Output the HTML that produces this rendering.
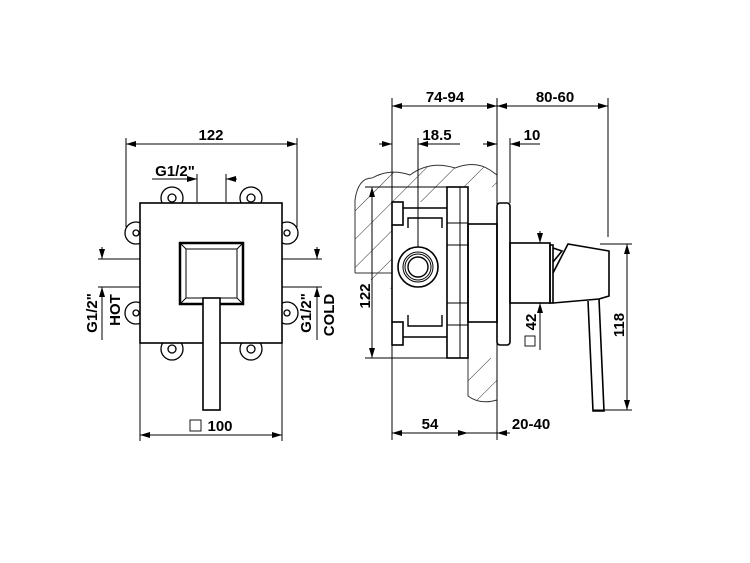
<!DOCTYPE html>
<html><head><style>
html,body{margin:0;padding:0;background:#fff;}
svg{display:block;}
text{font-family:"Liberation Sans",sans-serif;font-weight:bold;font-size:15px;fill:#000;}
</style></head><body>
<svg width="750" height="563" viewBox="0 0 750 563" xmlns="http://www.w3.org/2000/svg">
<defs>
<marker id="a" viewBox="0 0 10 6" refX="10" refY="3" markerWidth="10" markerHeight="6" orient="auto-start-reverse" markerUnits="userSpaceOnUse"><path d="M0,0 L10,3 L0,6 z" fill="#000"/></marker>
<pattern id="h" patternUnits="userSpaceOnUse" width="20" height="20" patternTransform="rotate(45)"><line x1="0" y1="0" x2="0" y2="20" stroke="#333" stroke-width="1"/></pattern>
</defs>
<g stroke="#000" fill="none" stroke-width="1">
<!-- LEFT VIEW -->
<line x1="126" y1="144" x2="297" y2="144" marker-start="url(#a)" marker-end="url(#a)"/>
<line x1="126" y1="138" x2="126" y2="227"/>
<line x1="297" y1="138" x2="297" y2="227"/>
<line x1="152" y1="179" x2="197" y2="179"/>
<line x1="186" y1="179" x2="197" y2="179" marker-end="url(#a)"/>
<line x1="237" y1="179" x2="226" y2="179" marker-end="url(#a)"/>
<line x1="197" y1="174" x2="197" y2="202"/>
<line x1="226" y1="174" x2="226" y2="202"/>
<g stroke-width="1.3">
<circle cx="172" cy="198" r="11"/><circle cx="172" cy="198" r="4"/>
<circle cx="251" cy="198" r="11"/><circle cx="251" cy="198" r="4"/>
<circle cx="172" cy="349" r="11"/><circle cx="172" cy="349" r="4"/>
<circle cx="251" cy="349" r="11"/><circle cx="251" cy="349" r="4"/>
<circle cx="136" cy="233" r="11"/><circle cx="136" cy="233" r="3"/>
<circle cx="136" cy="313" r="11"/><circle cx="136" cy="313" r="3"/>
<circle cx="287" cy="233" r="11"/><circle cx="287" cy="233" r="3"/>
<circle cx="287" cy="313" r="11"/><circle cx="287" cy="313" r="3"/>
</g>
<rect x="140" y="203" width="142" height="140" fill="#fff" stroke-width="1.6"/>
<rect x="180" y="243" width="63" height="61" stroke-width="2.5"/>
<rect x="186" y="249" width="51" height="49" stroke-width="1"/>
<line x1="180" y1="243" x2="186" y2="249"/><line x1="243" y1="243" x2="237" y2="249"/>
<line x1="180" y1="304" x2="186" y2="298"/><line x1="243" y1="304" x2="237" y2="298"/>
<rect x="203" y="298" width="17" height="112" fill="#fff" stroke-width="1.6"/>
<line x1="140" y1="343" x2="140" y2="441"/>
<line x1="282" y1="343" x2="282" y2="441"/>
<line x1="140" y1="435" x2="282" y2="435" marker-start="url(#a)" marker-end="url(#a)"/>
<rect x="190" y="420" width="11" height="11" stroke-width="0.9"/>
<line x1="98" y1="259" x2="140" y2="259"/><line x1="98" y1="287" x2="140" y2="287"/>
<line x1="102" y1="247" x2="102" y2="259" marker-end="url(#a)"/>
<line x1="102" y1="340" x2="102" y2="287" marker-end="url(#a)"/>
<line x1="282" y1="259" x2="322" y2="259"/><line x1="282" y1="287" x2="322" y2="287"/>
<line x1="317" y1="247" x2="317" y2="259" marker-end="url(#a)"/>
<line x1="317" y1="340" x2="317" y2="287" marker-end="url(#a)"/>

<!-- RIGHT VIEW -->
<path d="M355,273 L355,200 Q358,178 372,178 Q390,168 410,175 Q430,160 455,168 Q475,160 490,170 L497,175 L497,400 Q480,405 468,396 L468,323" fill="url(#h)" stroke="#333" stroke-width="1"/>
<line x1="355" y1="273" x2="392" y2="273" stroke="#333"/>
<rect x="392" y="202" width="55" height="143" fill="#fff" stroke="none"/>
<rect x="447" y="187" width="50" height="171" fill="#fff" stroke="none"/>
<path d="M468,323 L468,358" stroke="#333"/>
<line x1="392" y1="106" x2="497" y2="106" marker-start="url(#a)" marker-end="url(#a)"/>
<line x1="497" y1="106" x2="608" y2="106" marker-start="url(#a)" marker-end="url(#a)"/>
<line x1="392" y1="98" x2="392" y2="440"/>
<line x1="497" y1="98" x2="497" y2="440"/>
<line x1="608" y1="98" x2="608" y2="237"/>
<line x1="379" y1="144" x2="392" y2="144" marker-end="url(#a)"/>
<line x1="460" y1="144" x2="418" y2="144" marker-end="url(#a)"/>
<line x1="418" y1="138" x2="418" y2="247"/>
<line x1="483" y1="144" x2="497" y2="144" marker-end="url(#a)"/>
<line x1="540" y1="144" x2="510" y2="144" marker-end="url(#a)"/>
<line x1="510" y1="138" x2="510" y2="203"/>
<g stroke-width="1.6">
<rect x="392" y="202" width="11" height="23"/><rect x="392" y="322" width="11" height="23"/>
<line x1="392" y1="225" x2="392" y2="322"/>
<line x1="403" y1="208" x2="447" y2="208"/><line x1="403" y1="337" x2="447" y2="337"/>
<rect x="447" y="187" width="21" height="171"/>
<line x1="460" y1="187" x2="460" y2="358" stroke-width="1"/>
<rect x="468" y="224" width="29" height="98"/>
<rect x="497" y="203" width="13" height="142" rx="3"/>
<rect x="510" y="243" width="40" height="60"/>
<rect x="550" y="245" width="3" height="58"/>
<path d="M553,273 L568,244 L609,251 L609,296 L599,299 L553,303"/>
<path d="M553,248 L562,251 L553,262"/>
<path d="M588,301 L593,411 L604,411 L599,299"/>
</g>
<line x1="447" y1="223" x2="468" y2="223"/><line x1="447" y1="245" x2="468" y2="245"/>
<line x1="447" y1="303" x2="468" y2="303"/><line x1="447" y1="325" x2="468" y2="325"/>
<path d="M408,228 L408,218 L442,218 L442,228" stroke-width="1.4"/>
<path d="M408,315 L408,326 L442,326 L442,315" stroke-width="1.4"/>
<circle cx="418" cy="267" r="20" stroke-width="1.6"/>
<circle cx="418" cy="267" r="15"/><circle cx="418" cy="267" r="13"/><circle cx="418" cy="267" r="10" stroke-width="1.4"/>
<line x1="365" y1="187" x2="447" y2="187"/><line x1="365" y1="358" x2="447" y2="358"/>
<line x1="372" y1="187" x2="372" y2="358" marker-start="url(#a)" marker-end="url(#a)"/>
<line x1="540" y1="231" x2="540" y2="243" marker-end="url(#a)"/>
<line x1="540" y1="350" x2="540" y2="303" marker-end="url(#a)"/>
<rect x="525" y="336" width="10" height="10" stroke-width="0.9"/>
<line x1="600" y1="244" x2="632" y2="244"/><line x1="593" y1="410" x2="632" y2="410"/>
<line x1="627" y1="244" x2="627" y2="410" marker-start="url(#a)" marker-end="url(#a)"/>
<line x1="392" y1="433" x2="468" y2="433" marker-start="url(#a)" marker-end="url(#a)"/>
<line x1="468" y1="433" x2="497" y2="433"/>
<line x1="510" y1="433" x2="497" y2="433" marker-end="url(#a)"/>
</g>
<text x="211" y="140" text-anchor="middle">122</text>
<text x="175" y="176" text-anchor="middle">G1/2"</text>
<text x="220" y="431" text-anchor="middle">100</text>
<text transform="translate(97,313) rotate(-90)" text-anchor="middle">G1/2"</text>
<text transform="translate(120,310) rotate(-90)" text-anchor="middle">HOT</text>
<text transform="translate(311,313) rotate(-90)" text-anchor="middle">G1/2"</text>
<text transform="translate(334,315) rotate(-90)" text-anchor="middle">COLD</text>
<text x="445" y="102" text-anchor="middle">74-94</text>
<text x="555" y="102" text-anchor="middle">80-60</text>
<text x="437" y="140" text-anchor="middle">18.5</text>
<text x="532" y="140" text-anchor="middle">10</text>
<text transform="translate(370,296) rotate(-90)" text-anchor="middle">122</text>
<text transform="translate(536,322) rotate(-90)" text-anchor="middle">42</text>
<text transform="translate(624,325) rotate(-90)" text-anchor="middle">118</text>
<text x="430" y="429" text-anchor="middle">54</text>
<text x="531" y="429" text-anchor="middle">20-40</text>
</svg>
</body></html>
